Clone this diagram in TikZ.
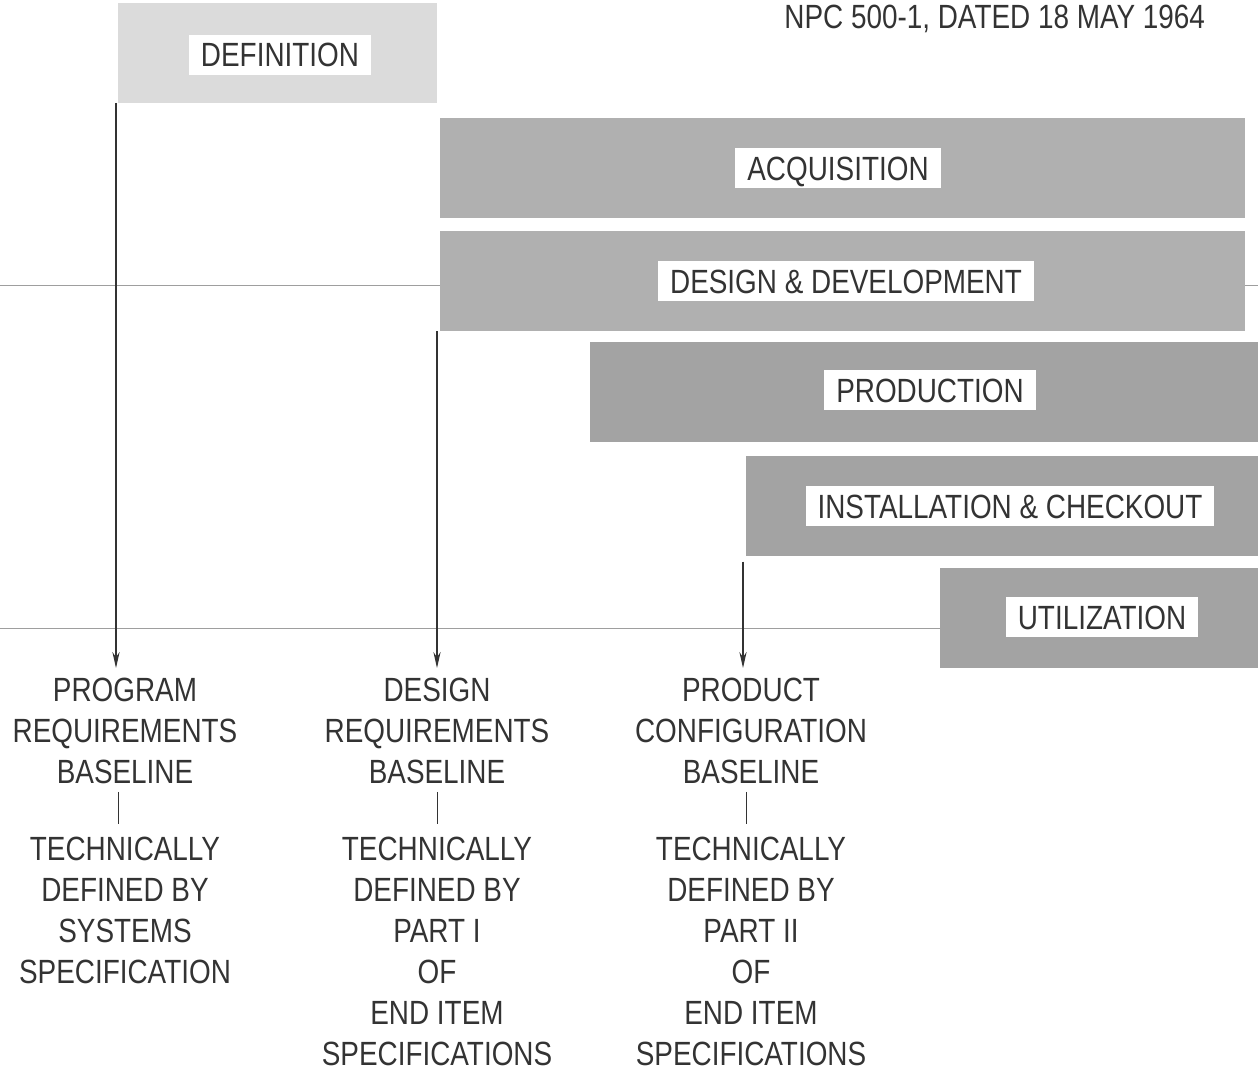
\documentclass[tikz,border=0pt]{standalone}
\usepackage{fontspec}
\setmainfont{Liberation Sans}[FakeStretch=0.83]
\usetikzlibrary{positioning,calc,arrows.meta}
\definecolor{lightbar}{gray}{0.86}
\definecolor{midbar}{gray}{0.69}
\definecolor{darkbar}{gray}{0.64}
\definecolor{inkgray}{gray}{0.2}
\definecolor{rulegray}{gray}{0.62}

\begin{document}
\begin{tikzpicture}[x=0.5pt, y=-0.5pt, inner sep=0pt, outer sep=0pt,
    font=\fontsize{16.8}{20.5}\selectfont, text=inkgray,
    bar/.style={rectangle, minimum height=50pt},
    tag/.style={fill=white, inner xsep=6pt, inner ysep=4pt, text height=12pt, text depth=0pt},
    txt/.style={align=center},
    arr/.style={draw=inkgray, line width=0.6pt, -{Stealth[length=8pt, width=3.6pt]}},
    tick/.style={draw=inkgray, line width=0.5pt},
    rule/.style={draw=rulegray, line width=0.4pt}]
    \useasboundingbox (0,0) rectangle (1258,1070);

    \node [bar, fill=lightbar, minimum width=159.5pt] (def) at (277.5,53) {};
    \node [bar, fill=midbar, minimum width=402.5pt] (acq) at (842.5,168) {};
    \node [bar, fill=midbar, minimum width=402.5pt] (des) at (842.5,281) {};
    \node [bar, fill=darkbar, minimum width=334pt] (prod) at (924,392) {};
    \node [bar, fill=darkbar, minimum width=256pt] (inst) at (1002,505.5) {};
    \node [bar, fill=darkbar, minimum width=159pt] (util) at (1099,617.5) {};

    \coordinate (r1) at (0,285);
    \coordinate (r2) at (1258,285);
    \coordinate (r3) at (0,628);
    \draw [rule] (r1) -- (r1 -| des.west);
    \draw [rule] (r2 -| des.east) -- (r2);
    \draw [rule] (r3) -- (r3 -| util.west);

    \node [tag] (defl) at (280,55) {DEFINITION};
    \node [tag] (acql) at (838,168) {ACQUISITION};
    \node [tag] (desl) at (846,281) {DESIGN \& DEVELOPMENT};
    \node [tag] (prodl) at (930,390) {PRODUCTION};
    \node [tag] (instl) at (1010,506) {INSTALLATION \& CHECKOUT};
    \node [tag] (utill) at (1102,617) {UTILIZATION};

    \node [anchor=base east] (hdr) at (1205,29) {NPC 500-1, DATED 18 MAY 1964};

    \node [txt, anchor=north] (prog) at (125,678) {PROGRAM\\REQUIREMENTS\\BASELINE};
    \node [txt, anchor=north] (dreq) at (437,678) {DESIGN\\REQUIREMENTS\\BASELINE};
    \node [txt, anchor=north] (pcfg) at (751,678) {PRODUCT\\CONFIGURATION\\BASELINE};

    \node [txt, below=26.5pt of prog] (progdef) {TECHNICALLY\\DEFINED BY\\SYSTEMS\\SPECIFICATION};
    \node [txt, below=26.5pt of dreq] (dreqdef) {TECHNICALLY\\DEFINED BY\\PART I\\OF\\END ITEM\\SPECIFICATIONS};
    \node [txt, below=26.5pt of pcfg] (pcfgdef) {TECHNICALLY\\DEFINED BY\\PART II\\OF\\END ITEM\\SPECIFICATIONS};

    \draw [arr, shorten >=5pt] ([xshift=-1pt]def.south west) -- ([xshift=-1pt]def.south west |- prog.north);
    \draw [arr, shorten >=5pt] ([xshift=-1.5pt]des.south west) -- ([xshift=-1.5pt]des.south west |- dreq.north);
    \draw [arr, shorten >=5pt] ([xshift=-1.5pt,yshift=-3pt]inst.south west) -- ([xshift=-1.5pt]inst.south west |- pcfg.north);

    \draw [tick] ([yshift=-4pt]prog.south -| def.south west) -- ([yshift=6.5pt]progdef.north -| def.south west);
    \draw [tick] ([yshift=-4pt]dreq.south) -- ([yshift=6.5pt]dreqdef.north);
    \draw [tick] ([yshift=-4pt]pcfg.south -| inst.south west) -- ([yshift=6.5pt]pcfgdef.north -| inst.south west);
\end{tikzpicture}
\end{document}
